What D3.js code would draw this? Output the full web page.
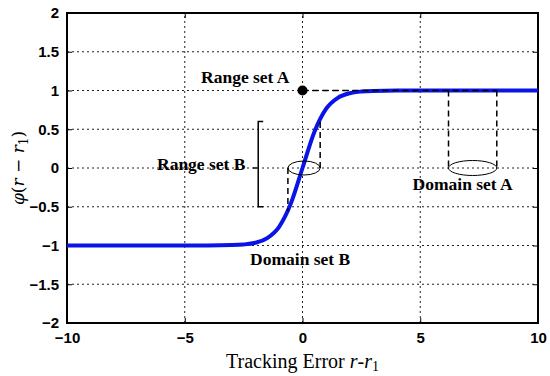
<!DOCTYPE html>
<html>
<head>
<meta charset="utf-8">
<script src="https://cdn.jsdelivr.net/npm/d3@7"></script>
<style>
  body { margin: 0; background: #fff; }
  svg text { fill: #000; }
</style>
</head>
<body>
<div id="chart"></div>
<script>
// values
const curveX = [-10, -4, -3, -2.5, -2, -1.5, -1, -0.5, 0, 0.5, 1, 1.5, 2, 2.5, 3, 4, 10];
const curveY = [-1, -0.999, -0.995, -0.987, -0.964, -0.905, -0.762, -0.462, 0, 0.462, 0.762, 0.905, 0.964, 0.987, 0.995, 0.999, 1];
const xTicks = [-10, -5, 0, 5, 10];
const yTicks = [-2, -1.5, -1, -0.5, 0, 0.5, 1, 1.5, 2];
const domainA = [6.2, 8.25];
const domainB = [-0.62, 0.75];
const rangeB = [-0.5, 0.6];

const width = 550, height = 376;
const margin = {top: 13, right: 12, bottom: 53, left: 67};

const svg = d3.select('#chart')
  .append('svg')
  .attr('width', width)
  .attr('height', height);

const x = d3.scaleLinear().domain([-10, 10]).range([margin.left, width - margin.right]);
const y = d3.scaleLinear().domain([-2, 2]).range([height - margin.bottom, margin.top]);

// grid
const grid = svg.append('g')
  .attr('stroke', '#222')
  .attr('stroke-width', 1)
  .attr('stroke-dasharray', '2,3');
grid.selectAll('.gx')
  .data(xTicks.slice(1, -1))
  .enter().append('line')
  .attr('x1', d => x(d)).attr('x2', d => x(d))
  .attr('y1', y(-2)).attr('y2', y(2));
grid.selectAll('.gy')
  .data(yTicks.slice(1, -1))
  .enter().append('line')
  .attr('x1', x(-10)).attr('x2', x(10))
  .attr('y1', d => y(d)).attr('y2', d => y(d));

// axes (inward ticks, MATLAB style)
const tickFont = g => g.selectAll('text')
  .attr('font-family', 'Liberation Sans, Arial, sans-serif')
  .attr('font-size', 15)
  .attr('font-weight', 'bold')
  .attr('fill', '#111');

svg.append('g')
  .attr('transform', `translate(0,${y(-2)})`)
  .call(d3.axisBottom(x).tickValues(xTicks).tickSize(-5).tickPadding(9).tickFormat(d3.format('d')))
  .call(g => g.select('.domain').remove())
  .call(tickFont);
svg.append('g')
  .attr('transform', `translate(${x(-10)},0)`)
  .call(d3.axisLeft(y).tickValues(yTicks).tickSize(-5).tickPadding(8).tickFormat(d => d3.format('')(d)))
  .call(g => g.select('.domain').remove())
  .call(tickFont);
svg.append('g')
  .attr('transform', `translate(${x(10)},0)`)
  .call(d3.axisRight(y).tickValues(yTicks).tickSize(-5).tickFormat(''))
  .call(g => g.select('.domain').remove());
svg.append('g')
  .attr('transform', `translate(0,${y(2)})`)
  .call(d3.axisTop(x).tickValues(xTicks).tickSize(-5).tickFormat(''))
  .call(g => g.select('.domain').remove());

svg.append('rect')
  .attr('x', x(-10)).attr('y', y(2))
  .attr('width', x(10) - x(-10)).attr('height', y(-2) - y(2))
  .attr('fill', 'none').attr('stroke', '#000').attr('stroke-width', 2);

// curve
const line = d3.line()
  .x(d => x(d[0]))
  .y(d => y(d[1]))
  .curve(d3.curveMonotoneX);
svg.append('path')
  .datum(d3.zip(curveX, curveY))
  .attr('d', line)
  .attr('fill', 'none')
  .attr('stroke', '#0a14e6')
  .attr('stroke-width', 4);

// annotations
const ann = svg.append('g').attr('stroke', '#000').attr('fill', 'none');
const dash = '6,4';

// range set A dashed line on top of y=1
ann.append('line')
  .attr('x1', x(0)).attr('x2', x(domainA[1]))
  .attr('y1', y(1)).attr('y2', y(1))
  .attr('stroke-width', 1.5).attr('stroke-dasharray', dash);
svg.append('circle')
  .attr('cx', x(0)).attr('cy', y(1)).attr('r', 5).attr('fill', '#000');

// domain set A
domainA.forEach(v => {
  ann.append('line')
    .attr('x1', x(v)).attr('x2', x(v))
    .attr('y1', y(1)).attr('y2', y(0))
    .attr('stroke-width', 1.5).attr('stroke-dasharray', dash);
});
ann.append('ellipse')
  .attr('cx', (x(domainA[0]) + x(domainA[1])) / 2).attr('cy', y(0))
  .attr('rx', (x(domainA[1]) - x(domainA[0])) / 2).attr('ry', 7.5)
  .attr('stroke-width', 1);

// domain set B
ann.append('line')
  .attr('x1', x(domainB[0])).attr('x2', x(domainB[0]))
  .attr('y1', y(0)).attr('y2', y(-0.55))
  .attr('stroke-width', 1.5).attr('stroke-dasharray', dash);
ann.append('line')
  .attr('x1', x(domainB[1])).attr('x2', x(domainB[1]))
  .attr('y1', y(0)).attr('y2', y(0.64))
  .attr('stroke-width', 1.5).attr('stroke-dasharray', dash);
ann.append('ellipse')
  .attr('cx', (x(domainB[0]) + x(domainB[1])) / 2).attr('cy', y(0))
  .attr('rx', (x(domainB[1]) - x(domainB[0])) / 2).attr('ry', 7)
  .attr('stroke-width', 1);

// range set B bracket
const bx = x(-1.88);
ann.append('path')
  .attr('d', `M${bx + 5},${y(rangeB[1])}H${bx}V${y(rangeB[0])}H${bx + 5}`)
  .attr('stroke-width', 1.5);
ann.append('line')
  .attr('x1', bx - 5).attr('x2', bx - 1)
  .attr('y1', y(0)).attr('y2', y(0))
  .attr('stroke-width', 1.5);

const label = (txt, cx, cy) => svg.append('text')
  .attr('x', cx).attr('y', cy)
  .attr('text-anchor', 'middle')
  .attr('font-family', 'Liberation Serif, Times New Roman, serif')
  .attr('font-weight', 'bold')
  .attr('font-size', 17.5)
  .text(txt);
label('Range set A', x(-2.43), y(1.1));
label('Range set B', x(-4.3), y(-0.03));
label('Domain set A', x(6.8), y(-0.28));
label('Domain set B', x(-0.1), y(-1.25));

// axis titles
const xt = svg.append('text')
  .attr('x', x(0)).attr('y', 368)
  .attr('text-anchor', 'middle')
  .attr('font-family', 'Liberation Serif, Times New Roman, serif')
  .attr('font-size', 20);
xt.append('tspan').text('Tracking Error ');
xt.append('tspan').attr('font-style', 'italic').text('r');
xt.append('tspan').text('-');
xt.append('tspan').attr('font-style', 'italic').text('r');
xt.append('tspan').attr('font-size', 14).attr('dy', 3).text('1');

const yt = svg.append('text')
  .attr('transform', `translate(24,${y(0)}) rotate(-90)`)
  .attr('text-anchor', 'middle')
  .attr('font-family', 'DejaVu Serif, Liberation Serif, serif')
  .attr('font-size', 17)
  .attr('fill', '#333');
yt.append('tspan').attr('font-style', 'italic').text('φ');
yt.append('tspan').text('(');
yt.append('tspan').attr('font-style', 'italic').text('r');
yt.append('tspan').text(' − ');
yt.append('tspan').attr('font-style', 'italic').text('r');
yt.append('tspan').attr('font-size', 12).attr('dy', 4).text('1');
yt.append('tspan').attr('dy', -4).text(')');
</script>
</body>
</html>
